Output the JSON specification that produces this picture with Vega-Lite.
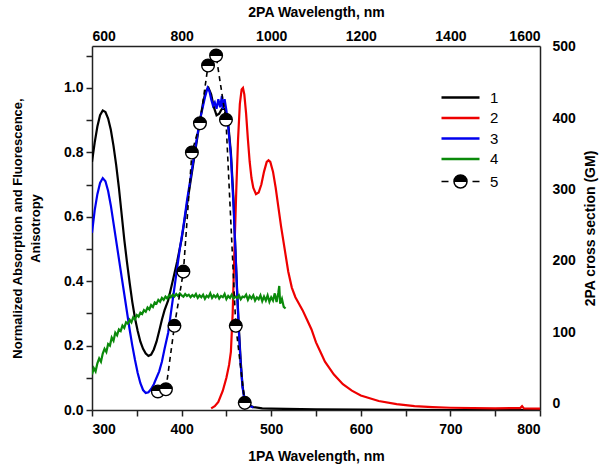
{
  "$schema": "https://vega.github.io/schema/vega-lite/v6.json",
  "width": 448,
  "height": 364,
  "autosize": "none",
  "padding": {"left": 92, "top": 46, "right": 60, "bottom": 60},
  "config": {
    "font": "Liberation Sans",
    "view": {"stroke": null},
    "axis": {
      "grid": false,
      "domainColor": "#222",
      "domainWidth": 1.5,
      "tickColor": "#222",
      "tickWidth": 1.5,
      "labelFont": "Liberation Sans",
      "labelFontWeight": "bold",
      "labelFontSize": 14,
      "labelColor": "#000",
      "titleFont": "Liberation Sans",
      "titleFontWeight": "bold",
      "titleFontSize": 14,
      "titleColor": "#000"
    }
  },
  "resolve": {"scale": {"x": "independent", "y": "independent"}},
  "layer": [
    {
      "data": {"values": [
        {"s":"1","w":300,"v":0.77},{"s":"1","w":303,"v":0.83},{"s":"1","w":306,"v":0.88},{"s":"1","w":309,"v":0.915},{"s":"1","w":312,"v":0.93},{"s":"1","w":315,"v":0.925},{"s":"1","w":318,"v":0.905},{"s":"1","w":321,"v":0.87},{"s":"1","w":324,"v":0.82},{"s":"1","w":327,"v":0.76},{"s":"1","w":330,"v":0.69},{"s":"1","w":333,"v":0.61},{"s":"1","w":336,"v":0.53},{"s":"1","w":339,"v":0.46},{"s":"1","w":342,"v":0.395},{"s":"1","w":345,"v":0.335},{"s":"1","w":348,"v":0.285},{"s":"1","w":351,"v":0.245},{"s":"1","w":354,"v":0.212},{"s":"1","w":357,"v":0.19},{"s":"1","w":360,"v":0.175},{"s":"1","w":363,"v":0.168},{"s":"1","w":366,"v":0.172},{"s":"1","w":369,"v":0.188},{"s":"1","w":372,"v":0.212},{"s":"1","w":375,"v":0.245},{"s":"1","w":378,"v":0.28},{"s":"1","w":381,"v":0.31},{"s":"1","w":385,"v":0.34},{"s":"1","w":390,"v":0.4},{"s":"1","w":395,"v":0.46},{"s":"1","w":400,"v":0.53},{"s":"1","w":405,"v":0.62},{"s":"1","w":410,"v":0.71},{"s":"1","w":415,"v":0.8},{"s":"1","w":420,"v":0.89},{"s":"1","w":424,"v":0.955},{"s":"1","w":427,"v":0.99},{"s":"1","w":430,"v":1.0},{"s":"1","w":433,"v":0.98},{"s":"1","w":436,"v":0.94},{"s":"1","w":439,"v":0.915},{"s":"1","w":442,"v":0.92},{"s":"1","w":445,"v":0.935},{"s":"1","w":448,"v":0.935},{"s":"1","w":450,"v":0.92},{"s":"1","w":452,"v":0.89},{"s":"1","w":455,"v":0.8},{"s":"1","w":458,"v":0.65},{"s":"1","w":460,"v":0.5},{"s":"1","w":462,"v":0.37},{"s":"1","w":464,"v":0.25},{"s":"1","w":466,"v":0.15},{"s":"1","w":468,"v":0.075},{"s":"1","w":470,"v":0.038},{"s":"1","w":474,"v":0.016},{"s":"1","w":480,"v":0.009},{"s":"1","w":490,"v":0.005},{"s":"1","w":500,"v":0.004},{"s":"1","w":550,"v":0.002},{"s":"1","w":600,"v":0.001},{"s":"1","w":700,"v":0.0},{"s":"1","w":800,"v":0.0},
        {"s":"2","w":433,"v":0.005},{"s":"2","w":437,"v":0.012},{"s":"2","w":441,"v":0.025},{"s":"2","w":446,"v":0.06},{"s":"2","w":450,"v":0.1},{"s":"2","w":453,"v":0.14},{"s":"2","w":455,"v":0.18},{"s":"2","w":457,"v":0.3},{"s":"2","w":459,"v":0.5},{"s":"2","w":461,"v":0.68},{"s":"2","w":463,"v":0.84},{"s":"2","w":465,"v":0.95},{"s":"2","w":467,"v":0.995},{"s":"2","w":468.5,"v":1.0},{"s":"2","w":470,"v":0.98},{"s":"2","w":472,"v":0.92},{"s":"2","w":474,"v":0.84},{"s":"2","w":476,"v":0.77},{"s":"2","w":478,"v":0.72},{"s":"2","w":480,"v":0.69},{"s":"2","w":483,"v":0.67},{"s":"2","w":486,"v":0.675},{"s":"2","w":489,"v":0.7},{"s":"2","w":492,"v":0.74},{"s":"2","w":495,"v":0.77},{"s":"2","w":497,"v":0.775},{"s":"2","w":499,"v":0.77},{"s":"2","w":502,"v":0.74},{"s":"2","w":505,"v":0.69},{"s":"2","w":508,"v":0.63},{"s":"2","w":511,"v":0.57},{"s":"2","w":515,"v":0.5},{"s":"2","w":519,"v":0.43},{"s":"2","w":523,"v":0.38},{"s":"2","w":527,"v":0.35},{"s":"2","w":531,"v":0.33},{"s":"2","w":535,"v":0.31},{"s":"2","w":540,"v":0.28},{"s":"2","w":545,"v":0.25},{"s":"2","w":550,"v":0.21},{"s":"2","w":555,"v":0.18},{"s":"2","w":560,"v":0.15},{"s":"2","w":570,"v":0.11},{"s":"2","w":580,"v":0.08},{"s":"2","w":590,"v":0.06},{"s":"2","w":600,"v":0.045},{"s":"2","w":620,"v":0.028},{"s":"2","w":640,"v":0.018},{"s":"2","w":660,"v":0.012},{"s":"2","w":680,"v":0.009},{"s":"2","w":700,"v":0.007},{"s":"2","w":750,"v":0.005},{"s":"2","w":778,"v":0.006},{"s":"2","w":780,"v":0.012},{"s":"2","w":782,"v":0.005},{"s":"2","w":800,"v":0.004},
        {"s":"3","w":300,"v":0.55},{"s":"3","w":303,"v":0.62},{"s":"3","w":306,"v":0.67},{"s":"3","w":309,"v":0.705},{"s":"3","w":312,"v":0.72},{"s":"3","w":315,"v":0.71},{"s":"3","w":318,"v":0.68},{"s":"3","w":321,"v":0.635},{"s":"3","w":324,"v":0.58},{"s":"3","w":327,"v":0.525},{"s":"3","w":330,"v":0.47},{"s":"3","w":333,"v":0.415},{"s":"3","w":336,"v":0.36},{"s":"3","w":339,"v":0.305},{"s":"3","w":342,"v":0.25},{"s":"3","w":345,"v":0.2},{"s":"3","w":348,"v":0.155},{"s":"3","w":351,"v":0.115},{"s":"3","w":354,"v":0.083},{"s":"3","w":357,"v":0.062},{"s":"3","w":360,"v":0.053},{"s":"3","w":363,"v":0.055},{"s":"3","w":366,"v":0.065},{"s":"3","w":369,"v":0.08},{"s":"3","w":372,"v":0.1},{"s":"3","w":375,"v":0.12},{"s":"3","w":378,"v":0.15},{"s":"3","w":381,"v":0.19},{"s":"3","w":385,"v":0.24},{"s":"3","w":388,"v":0.3},{"s":"3","w":392,"v":0.38},{"s":"3","w":395,"v":0.44},{"s":"3","w":398,"v":0.5},{"s":"3","w":402,"v":0.57},{"s":"3","w":406,"v":0.65},{"s":"3","w":410,"v":0.72},{"s":"3","w":414,"v":0.79},{"s":"3","w":418,"v":0.86},{"s":"3","w":422,"v":0.92},{"s":"3","w":426,"v":0.97},{"s":"3","w":429,"v":1.0},{"s":"3","w":431,"v":0.99},{"s":"3","w":433,"v":0.965},{"s":"3","w":435,"v":0.945},{"s":"3","w":437,"v":0.955},{"s":"3","w":439,"v":0.935},{"s":"3","w":441,"v":0.965},{"s":"3","w":443,"v":0.94},{"s":"3","w":445,"v":0.975},{"s":"3","w":446,"v":0.935},{"s":"3","w":448,"v":0.965},{"s":"3","w":450,"v":0.93},{"s":"3","w":452,"v":0.88},{"s":"3","w":455,"v":0.79},{"s":"3","w":458,"v":0.63},{"s":"3","w":460,"v":0.5},{"s":"3","w":462,"v":0.36},{"s":"3","w":464,"v":0.24},{"s":"3","w":466,"v":0.14},{"s":"3","w":468,"v":0.07},{"s":"3","w":470,"v":0.035},{"s":"3","w":474,"v":0.015},{"s":"3","w":480,"v":0.008},
        {"s":"4","w":300,"v":0.11},{"s":"4","w":302,"v":0.13},{"s":"4","w":304,"v":0.12},{"s":"4","w":306,"v":0.145},{"s":"4","w":308,"v":0.16},{"s":"4","w":310,"v":0.15},{"s":"4","w":312,"v":0.175},{"s":"4","w":314,"v":0.19},{"s":"4","w":316,"v":0.18},{"s":"4","w":318,"v":0.205},{"s":"4","w":320,"v":0.2},{"s":"4","w":322,"v":0.225},{"s":"4","w":324,"v":0.215},{"s":"4","w":326,"v":0.24},{"s":"4","w":328,"v":0.232},{"s":"4","w":330,"v":0.25},{"s":"4","w":332,"v":0.245},{"s":"4","w":334,"v":0.262},{"s":"4","w":336,"v":0.255},{"s":"4","w":338,"v":0.272},{"s":"4","w":340,"v":0.268},{"s":"4","w":342,"v":0.28},{"s":"4","w":344,"v":0.272},{"s":"4","w":346,"v":0.288},{"s":"4","w":348,"v":0.282},{"s":"4","w":350,"v":0.295},{"s":"4","w":352,"v":0.29},{"s":"4","w":354,"v":0.302},{"s":"4","w":356,"v":0.298},{"s":"4","w":358,"v":0.31},{"s":"4","w":360,"v":0.305},{"s":"4","w":362,"v":0.318},{"s":"4","w":364,"v":0.312},{"s":"4","w":366,"v":0.326},{"s":"4","w":368,"v":0.32},{"s":"4","w":370,"v":0.334},{"s":"4","w":372,"v":0.33},{"s":"4","w":374,"v":0.342},{"s":"4","w":376,"v":0.336},{"s":"4","w":378,"v":0.348},{"s":"4","w":380,"v":0.342},{"s":"4","w":382,"v":0.352},{"s":"4","w":384,"v":0.346},{"s":"4","w":386,"v":0.356},{"s":"4","w":388,"v":0.35},{"s":"4","w":390,"v":0.358},{"s":"4","w":392,"v":0.352},{"s":"4","w":394,"v":0.36},{"s":"4","w":396,"v":0.354},{"s":"4","w":398,"v":0.362},{"s":"4","w":400,"v":0.356},{"s":"4","w":402,"v":0.352},{"s":"4","w":404,"v":0.36},{"s":"4","w":406,"v":0.354},{"s":"4","w":408,"v":0.358},{"s":"4","w":410,"v":0.35},{"s":"4","w":412,"v":0.357},{"s":"4","w":414,"v":0.352},{"s":"4","w":416,"v":0.36},{"s":"4","w":418,"v":0.348},{"s":"4","w":420,"v":0.356},{"s":"4","w":422,"v":0.35},{"s":"4","w":424,"v":0.358},{"s":"4","w":426,"v":0.345},{"s":"4","w":428,"v":0.355},{"s":"4","w":430,"v":0.35},{"s":"4","w":432,"v":0.362},{"s":"4","w":434,"v":0.348},{"s":"4","w":436,"v":0.356},{"s":"4","w":438,"v":0.35},{"s":"4","w":440,"v":0.358},{"s":"4","w":442,"v":0.346},{"s":"4","w":444,"v":0.354},{"s":"4","w":446,"v":0.35},{"s":"4","w":448,"v":0.36},{"s":"4","w":450,"v":0.344},{"s":"4","w":452,"v":0.354},{"s":"4","w":454,"v":0.348},{"s":"4","w":456,"v":0.358},{"s":"4","w":458,"v":0.346},{"s":"4","w":460,"v":0.352},{"s":"4","w":462,"v":0.348},{"s":"4","w":464,"v":0.356},{"s":"4","w":466,"v":0.344},{"s":"4","w":468,"v":0.352},{"s":"4","w":470,"v":0.35},{"s":"4","w":472,"v":0.358},{"s":"4","w":474,"v":0.342},{"s":"4","w":476,"v":0.354},{"s":"4","w":478,"v":0.346},{"s":"4","w":480,"v":0.356},{"s":"4","w":482,"v":0.34},{"s":"4","w":484,"v":0.35},{"s":"4","w":486,"v":0.344},{"s":"4","w":488,"v":0.356},{"s":"4","w":490,"v":0.338},{"s":"4","w":492,"v":0.352},{"s":"4","w":494,"v":0.34},{"s":"4","w":496,"v":0.356},{"s":"4","w":498,"v":0.336},{"s":"4","w":500,"v":0.35},{"s":"4","w":502,"v":0.34},{"s":"4","w":504,"v":0.362},{"s":"4","w":506,"v":0.335},{"s":"4","w":508,"v":0.365},{"s":"4","w":509,"v":0.385},{"s":"4","w":510,"v":0.33},{"s":"4","w":512,"v":0.345},{"s":"4","w":514,"v":0.32},{"s":"4","w":516,"v":0.315}
      ]},
      "mark": {"type": "line", "strokeWidth": 2.2, "clip": true},
      "encoding": {
        "x": {
          "field": "w", "type": "quantitative",
          "scale": {"domain": [300, 800], "nice": false, "zero": false},
          "axis": {
            "orient": "bottom",
            "title": "1PA Wavelength, nm",
            "values": [300,350,400,450,500,550,600,650,700,750,800],
            "labelExpr": "datum.value % 100 === 0 ? datum.value : ''",
            "tickSize": 6,
            "labelPadding": 6,
            "titlePadding": 13,
            "encode": {"ticks": {"update": {"y2": {"signal": "datum.value % 100 === 0 ? 6 : 3"}}}}
          }
        },
        "y": {
          "field": "v", "type": "quantitative",
          "scale": {"domain": [0, 1.13], "nice": false, "zero": false},
          "axis": {
            "orient": "left",
            "title": ["Normalized Absorption and Fluorescence,", "Anisotropy"],
            "titleFontSize": 13,
            "titleLineHeight": 18,
            "values": [0,0.1,0.2,0.3,0.4,0.5,0.6,0.7,0.8,0.9,1.0,1.1],
            "labelExpr": "round(datum.value*10) % 2 === 0 && datum.value < 1.05 ? format(datum.value, '.1f') : ''",
            "tickSize": 6,
            "labelPadding": 3,
            "titlePadding": 21,
            "encode": {"ticks": {"update": {"x2": {"signal": "round(datum.value*10) % 2 === 0 ? -6 : -3"}}}}
          }
        },
        "color": {
          "field": "s", "type": "nominal",
          "scale": {"domain": ["1","2","3","4","5"], "range": ["#000000","#ee0000","#0000ee","#0a8a0a","#000000"]},
          "legend": {
            "orient": "none",
            "legendX": 370,
            "legendY": 44,
            "title": null,
            "symbolSize": 400,
            "symbolStrokeWidth": 2.5,
            "labelFont": "Liberation Sans",
            "labelFontSize": 15,
            "labelFontWeight": "normal",
            "labelColor": "#000",
            "labelOffset": 13,
            "rowPadding": 4.5,
            "encode": {
              "symbols": {
                "update": {
                  "shape": {"signal": "datum.value === '5' ? 'M -2.8 0 L -2.1 0 M 0.3 0 L 1 0 M -1.55 0 A 0.65 0.65 0 1 1 -0.25 0 A 0.65 0.65 0 1 1 -1.55 0 Z' : 'M -2.8 0 L 1 0'"},
                  "fill": {"value": {"gradient": "linear", "x1": 0, "y1": 0, "x2": 0, "y2": 1, "stops": [{"offset": 0, "color": "#000"}, {"offset": 0.5, "color": "#000"}, {"offset": 0.5, "color": "#fff"}, {"offset": 1, "color": "#fff"}]}},
                  "fillOpacity": {"value": 1},
                  "strokeWidth": {"signal": "datum.value === '5' ? 1.5 : 2.5"}
                }
              }
            }
          }
        }
      }
    },
    {
      "data": {"values": [
        {"s":"5","w2":747,"gm":17},{"s":"5","w2":765,"gm":20},{"s":"5","w2":784,"gm":109},{"s":"5","w2":804,"gm":185},{"s":"5","w2":823,"gm":352},{"s":"5","w2":841,"gm":393},{"s":"5","w2":859,"gm":474},{"s":"5","w2":877,"gm":488},{"s":"5","w2":899,"gm":398},{"s":"5","w2":921,"gm":109},{"s":"5","w2":941,"gm":1}
      ]},
      "encoding": {
        "x": {
          "field": "w2", "type": "quantitative",
          "scale": {"domain": [600, 1600], "nice": false, "zero": false},
          "axis": {
            "orient": "top",
            "title": "2PA Wavelength, nm",
            "values": [600,700,800,900,1000,1100,1200,1300,1400,1500,1600],
            "labelExpr": "datum.value % 200 === 0 ? datum.value : ''",
            "tickSize": 0,
            "labelPadding": 3,
            "titlePadding": 10,
            "encode": {"ticks": {"update": {"y2": {"signal": "datum.value % 200 === 0 ? 6 : 3"}}}}
          }
        },
        "y": {
          "field": "gm", "type": "quantitative",
          "scale": {"domain": [-9, 501.4], "nice": false, "zero": false},
          "axis": {
            "orient": "right",
            "title": "2PA cross section (GM)",
            "titleAngle": -90,
            "titleBaseline": "top",
            "values": [0,50,100,150,200,250,300,350,400,450,500],
            "labelExpr": "datum.value % 100 === 0 ? datum.value : ''",
            "tickSize": 0,
            "labelPadding": 12,
            "titlePadding": 8,
            "encode": {"ticks": {"update": {"x2": {"signal": "datum.value % 100 === 0 ? -6 : -3"}}}}
          }
        }
      },
      "layer": [
        {
          "mark": {"type": "line", "strokeDash": [5, 4], "strokeWidth": 1.6},
          "encoding": {"color": {"field": "s", "type": "nominal"}}
        },
        {
          "mark": {
            "type": "point", "shape": "circle", "size": 160, "filled": true, "opacity": 1, "strokeWidth": 1.4, "stroke": "#000",
            "fill": {"gradient": "linear", "x1": 0, "y1": 0, "x2": 0, "y2": 1, "stops": [{"offset": 0, "color": "#000"}, {"offset": 0.5, "color": "#000"}, {"offset": 0.5, "color": "#fff"}, {"offset": 1, "color": "#fff"}]}
          }
        }
      ]
    }
  ]
}
